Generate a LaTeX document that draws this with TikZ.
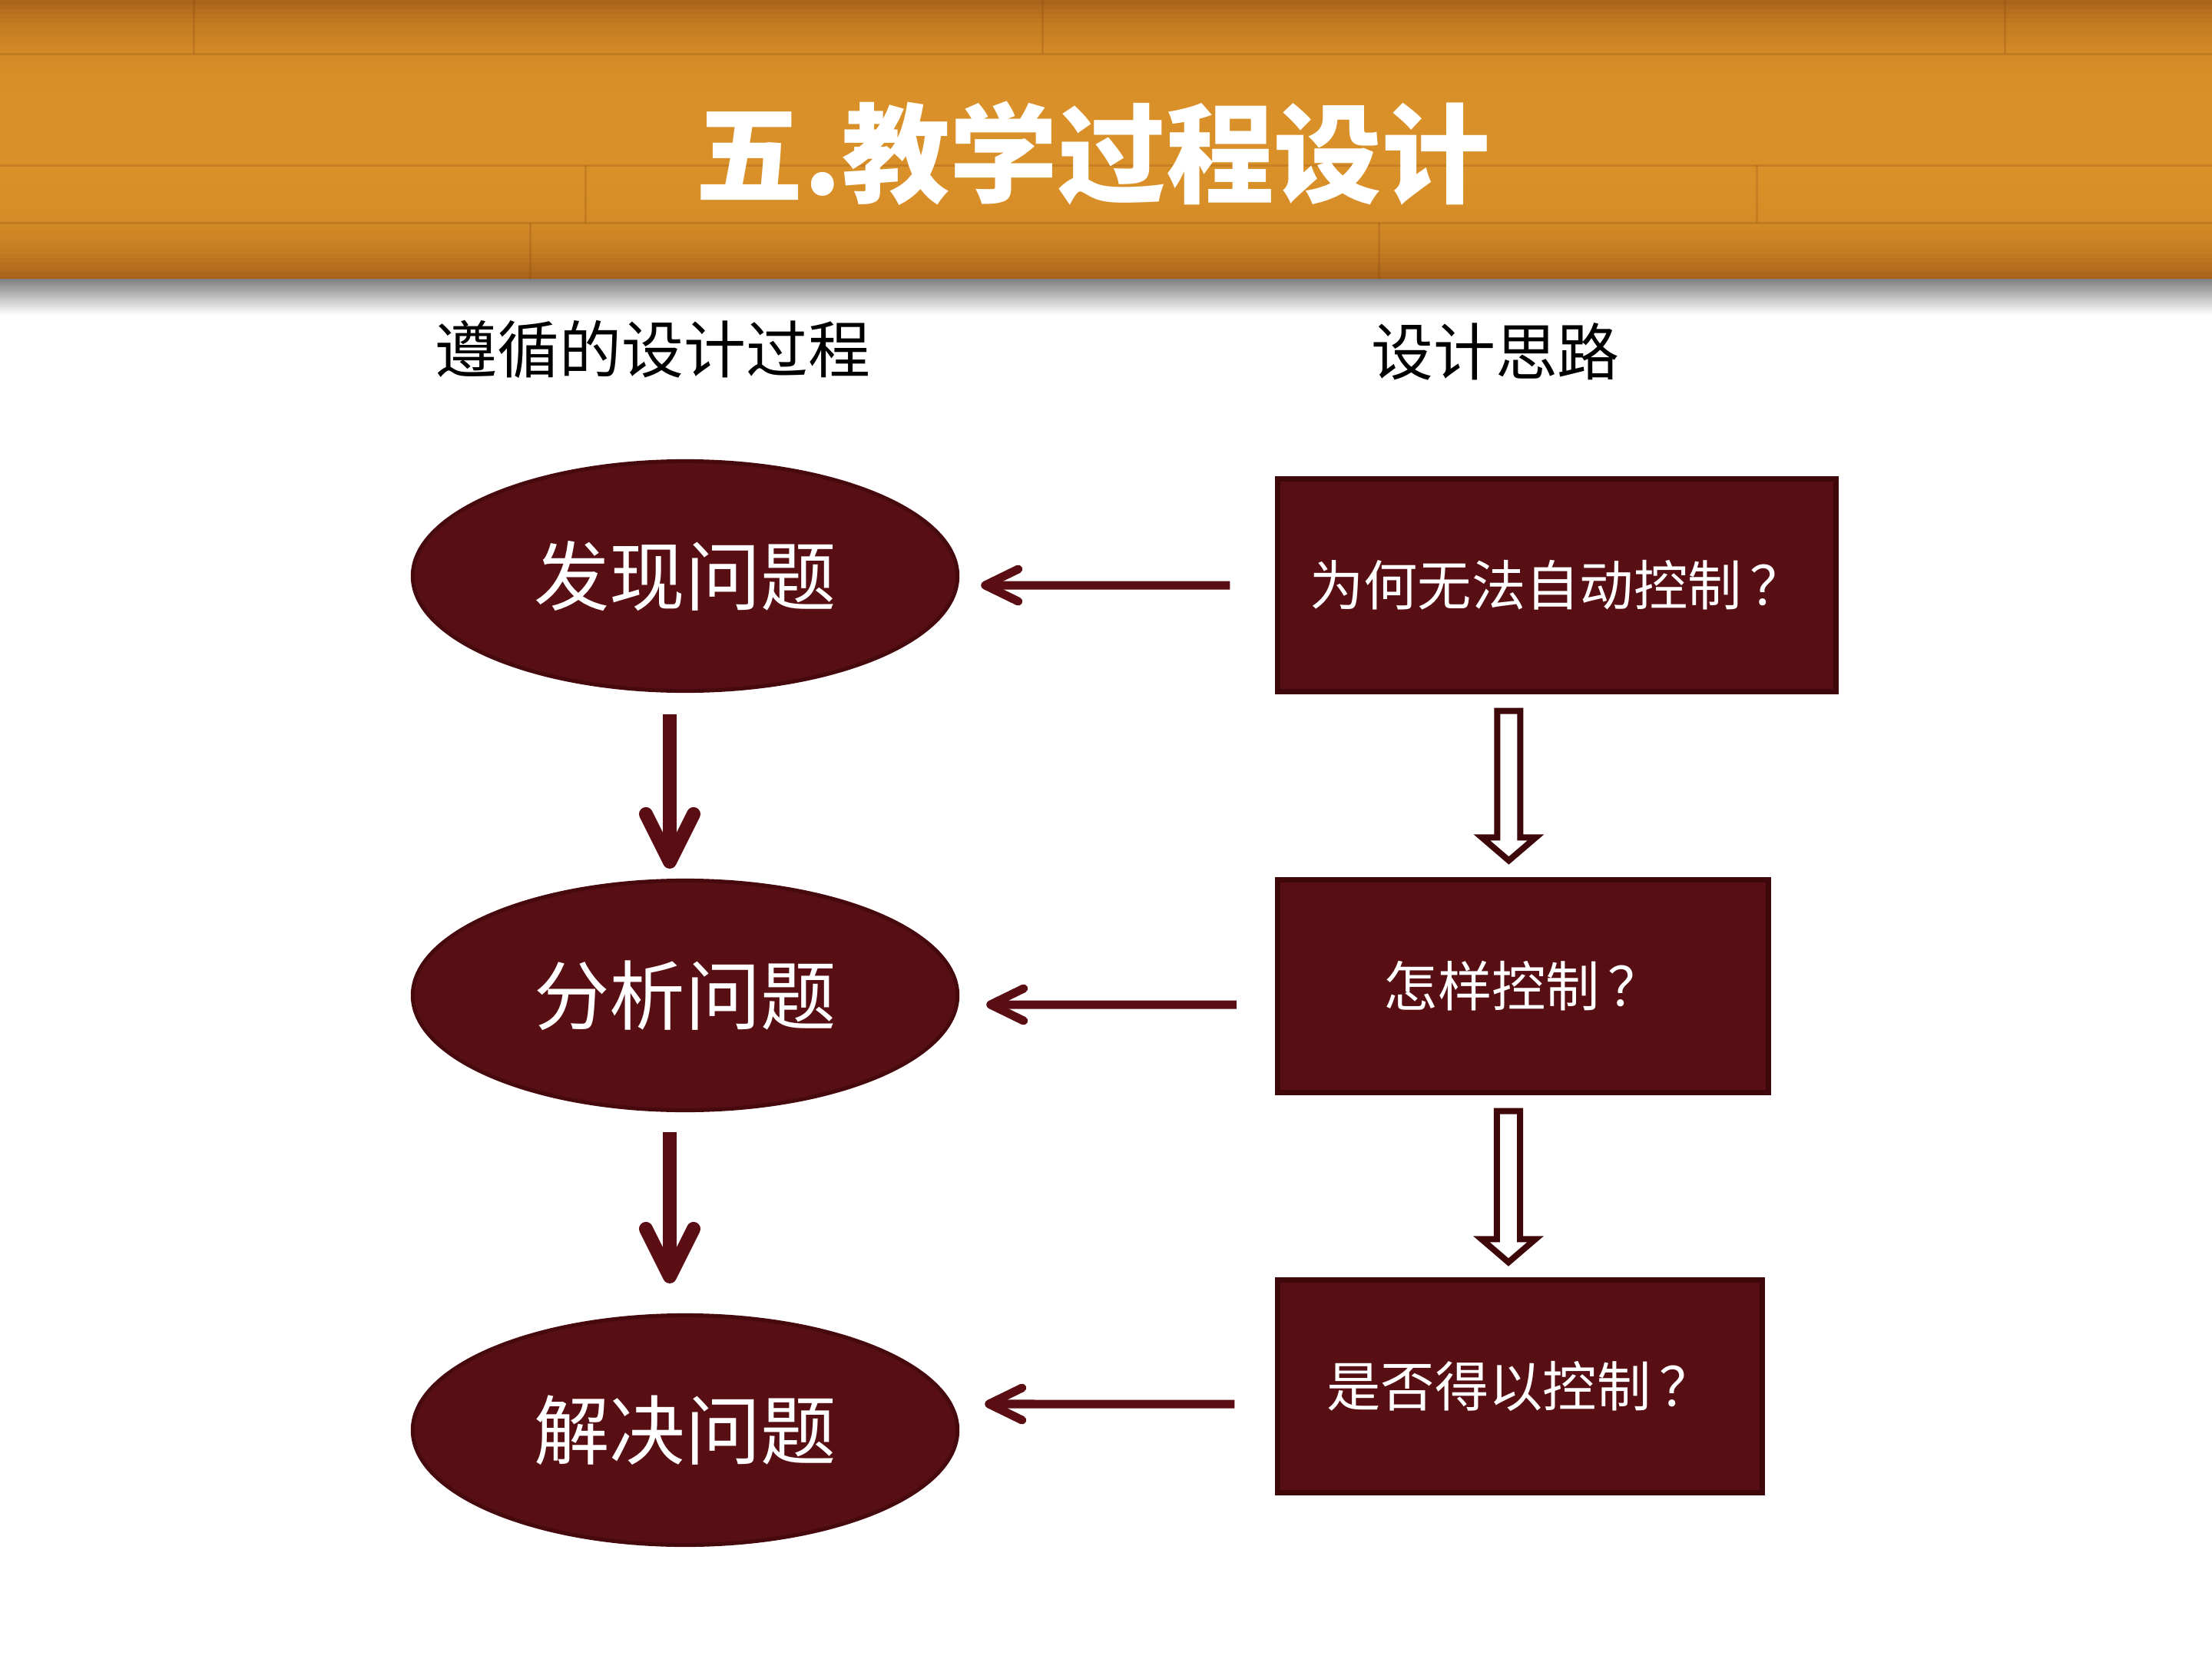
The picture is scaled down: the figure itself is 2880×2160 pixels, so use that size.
\documentclass[tikz,border=0pt]{standalone}
\usepackage{fontspec}
\setmainfont{Noto Sans CJK SC}
\usepackage{tikz}
\usetikzlibrary{arrows.meta,shapes.geometric,calc}
\definecolor{edmaroon}{RGB}{87,15,20}
\definecolor{edborder}{RGB}{70,10,14}
\definecolor{eddark}{RGB}{62,8,11}
\definecolor{edarrow}{RGB}{90,14,20}
\definecolor{edwoodedge}{RGB}{168,96,26}
\definecolor{edwoodmid}{RGB}{218,144,40}
\definecolor{edseam}{RGB}{120,62,12}

\begin{document}
\begin{tikzpicture}[
    x=0.01cm, y=-0.01cm,
    problem/.style={ellipse, draw=edborder, line width=0.05cm, fill=edmaroon, text=white, minimum width=7.09cm, minimum height=2.99cm, font=\fontsize{28pt}{34pt}\selectfont},
    question/.style={rectangle, draw=eddark, line width=0.07cm, fill=edmaroon, text=white, minimum height=2.76cm, font=\fontsize{20pt}{24pt}\selectfont},
    heading/.style={font=\fontsize{23pt}{28pt}\selectfont},
    seam/.style={draw=edseam, opacity=0.2, line width=0.03cm},
    back/.style={-{Straight Barb[round,length=0.43cm,width=0.42cm]}, line width=0.11cm, draw=edarrow},
    down/.style={-{Straight Barb[round,length=0.62cm,width=0.62cm]}, line width=0.18cm, draw=edarrow},
    hollow/.style={draw=eddark, fill=white, line width=0.08cm, to path={let \p1=(\tikztostart), \p2=(\tikztotarget) in (\x1-0.15cm,\y1-0.04cm) -- (\x1+0.15cm,\y1-0.04cm) -- (\x1+0.15cm,\y2+0.36cm) -- (\x1+0.35cm,\y2+0.36cm) -- (\x1,\y2+0.06cm) -- (\x1-0.35cm,\y2+0.36cm) -- (\x1-0.15cm,\y2+0.36cm) -- cycle}}
]
    \useasboundingbox (0,0) rectangle (2880,2160);
    \fill[white] (0,0) rectangle (2880,2160);

    % Wooden banner
    \foreach \yy in {0,6,...,360}{
        \pgfmathsetmacro\pct{100-100*((\yy+3-181)/181)^4}
        \fill[edwoodmid!\pct!edwoodedge] (0,\yy) rectangle (2880,\yy+7);
    }
    \shade[top color=black!50, bottom color=white] (0,363) rectangle (2880,410);
    \draw[seam] (0,70) -- (2880,70);
    \draw[seam] (0,215) -- (2880,215);
    \draw[seam] (0,290) -- (2880,290);
    \draw[seam] (252,0) -- (252,70);
    \draw[seam] (1357,0) -- (1357,70);
    \draw[seam] (2610,0) -- (2610,70);
    \draw[seam] (762,215) -- (762,290);
    \draw[seam] (2287,215) -- (2287,290);
    \draw[seam] (690,290) -- (690,363);
    \draw[seam] (1795,290) -- (1795,363);
    \node[font=\bfseries\fontsize{40pt}{48pt}\selectfont, text=white] (title) at (1423,200) {五.教学过程设计};

    % Column headings
    \node[heading] (lefthead) at (850,455) {遵循的设计过程};
    \node[heading] (righthead) at (1947,458) {设计思路};

    % Process (left)
    \node[problem] (p1) at (892,750) {发现问题};
    \node[problem] (p2) at (892,1296) {分析问题};
    \node[problem] (p3) at (892,1862) {解决问题};

    % Questions (right)
    \node[question, minimum width=7.26cm] (q1) at (2027,762) {为何无法自动控制\hspace{0.15em}？};
    \node[question, minimum width=6.39cm] (q2) at (1983,1284) {怎样控制\hspace{0.15em}？};
    \node[question, minimum width=6.30cm] (q3) at (1979,1805) {是否得以控制\hspace{0.15em}？};

    % Arrows
    \draw[back] ([xshift=-0.59cm]q1.west) -- ([xshift=0.28cm,yshift=-0.12cm]p1.east);
    \draw[back] ([xshift=-0.5cm,yshift=-0.24cm]q2.west) -- ([xshift=0.35cm,yshift=-0.12cm]p2.east);
    \draw[back] ([xshift=-0.53cm,yshift=-0.23cm]q3.west) -- ([xshift=0.33cm,yshift=0.34cm]p3.east);
    \draw[down] ([xshift=-0.2cm,yshift=-0.28cm]p1.south) -- ([xshift=-0.2cm,yshift=0.13cm]p2.north);
    \draw[down] ([xshift=-0.2cm,yshift=-0.26cm]p2.south) -- ([xshift=-0.2cm,yshift=0.39cm]p3.north);
    \draw[hollow] ([xshift=3.04cm,yshift=-0.18cm]q1.south west) to ([xshift=3.04cm,yshift=0.16cm]q2.north west);
    \draw[hollow] ([xshift=3.04cm,yshift=-0.17cm]q2.south west) to ([xshift=3.04cm,yshift=0.14cm]q3.north west);
\end{tikzpicture}
\end{document}
